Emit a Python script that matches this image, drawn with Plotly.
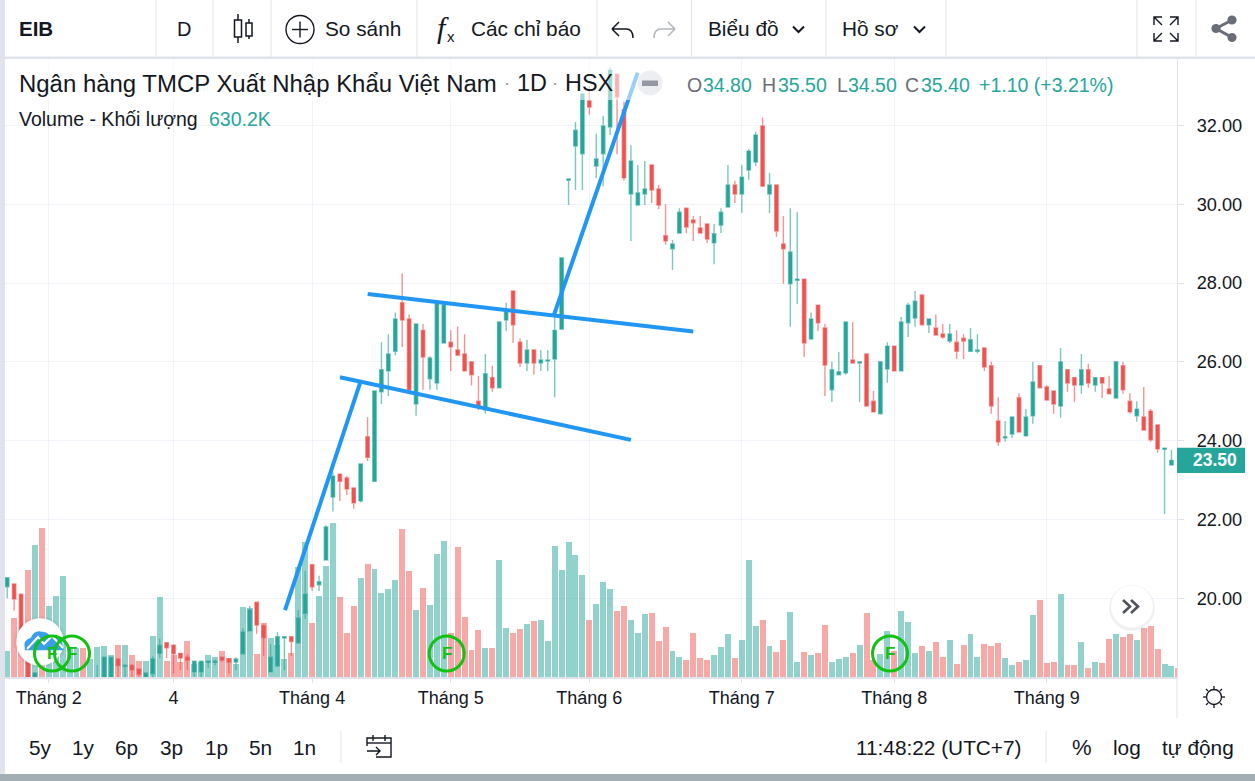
import plotly.graph_objects as go

# daily candles, index 0 is the leftmost bar
# (bars 5-13 sit below the visible price range, behind the logo)
open_p = [20.29,20.36,20.10,18.90,17.90,17.80,17.60,17.60,17.50,17.50,17.50,17.70,17.55,17.70,17.70,17.70,18.46,18.27,18.30,18.20,
 17.90,18.08,18.60,18.87,18.81,18.60,18.50,18.13,18.13,18.37,18.37,18.50,18.46,18.38,18.59,19.17,19.90,19.30,18.13,18.28,
 18.99,19.02,18.87,19.62,20.85,20.34,20.97,22.57,23.15,23.05,22.80,22.47,24.10,22.97,25.24,25.77,26.27,27.50,27.09,24.93,
 26.80,25.57,25.46,26.48,26.50,26.30,26.20,26.00,25.00,24.78,25.60,25.34,27.06,27.80,26.50,25.97,26.30,25.97,26.02,26.07,
 26.83,30.61,31.48,31.28,32.62,30.97,31.28,31.96,33.30,32.40,30.26,29.98,30.26,31.00,30.39,29.20,28.87,29.27,29.90,29.60,
 29.40,29.50,29.02,29.47,29.93,30.49,30.26,30.87,31.07,31.99,30.26,30.49,28.99,27.98,28.07,28.10,26.58,27.44,26.86,25.29,
 25.67,25.72,26.05,25.97,26.20,25.00,24.68,25.82,26.40,25.77,26.99,27.11,27.70,26.94,26.86,26.71,26.53,26.50,26.60,26.27,
 26.27,26.35,25.90,24.50,24.07,24.17,25.09,24.12,24.63,25.90,25.36,25.26,24.88,25.80,25.60,25.41,25.80,25.41,25.60,25.31,
 25.08,25.90,25.00,24.63,24.60,24.75,24.40,23.78,23.38]
high_p = [20.52,20.36,20.10,18.95,18.10,17.85,17.70,17.75,17.70,17.60,17.70,17.75,17.80,18.30,18.50,18.50,18.46,18.30,18.30,18.20,
 18.10,18.52,18.97,18.87,18.81,18.60,18.58,18.40,18.40,18.40,18.45,18.50,18.46,18.50,19.24,19.80,19.90,19.35,18.84,19.14,
 19.02,19.02,19.70,20.70,20.85,20.57,21.85,23.20,23.15,23.10,22.80,23.41,24.60,25.26,26.50,26.70,27.25,28.25,27.20,26.96,
 26.96,26.15,27.47,27.50,26.80,26.90,26.70,26.00,25.64,26.20,25.90,27.01,27.50,27.80,26.60,26.56,26.30,26.30,26.30,27.20,
 28.64,30.64,32.09,32.80,33.00,31.79,32.24,33.48,33.30,32.60,31.50,31.00,31.10,31.00,30.49,30.00,29.09,29.90,29.90,29.70,
 29.70,29.50,29.50,29.90,31.00,30.60,31.00,31.40,31.84,32.20,30.80,30.49,29.70,29.90,29.80,28.10,27.25,27.44,26.96,26.00,
 26.25,27.01,27.01,26.00,26.20,25.26,26.00,26.50,26.40,27.14,27.50,27.80,27.70,27.09,27.20,26.96,26.96,26.80,26.70,26.86,
 26.70,26.35,26.00,25.10,24.50,24.60,25.20,24.80,26.00,25.90,25.41,25.26,26.35,25.80,25.60,26.20,25.95,25.60,25.60,25.65,
 26.00,26.00,25.20,25.00,25.36,24.80,24.40,23.81,23.77]
low_p = [20.00,19.68,19.00,17.90,17.80,17.50,17.50,17.50,17.40,17.40,17.40,17.50,17.50,17.60,17.60,17.60,17.80,17.80,17.80,17.90,
 17.80,17.95,18.48,18.48,18.08,18.18,18.18,17.95,17.95,18.23,18.30,18.38,18.08,18.18,18.59,19.17,19.10,18.53,18.13,18.28,
 18.18,18.53,18.84,19.47,20.18,20.18,20.97,22.20,22.47,22.62,22.27,22.43,23.48,22.97,24.93,25.13,26.17,26.38,25.29,24.63,
 25.29,25.29,25.29,26.48,25.77,26.17,25.77,25.40,24.78,24.68,25.24,25.34,26.78,26.48,25.87,25.77,25.67,25.77,25.77,25.10,
 26.83,29.98,30.36,30.36,32.27,30.67,30.46,31.76,31.27,30.60,29.07,29.98,29.98,30.03,29.88,28.97,28.33,29.27,29.27,29.07,
 29.27,29.02,28.48,29.27,29.93,30.03,29.78,30.62,30.97,30.46,29.78,29.17,27.98,26.89,27.47,26.12,26.58,26.78,25.13,24.98,
 25.67,25.67,25.97,24.98,24.88,24.73,24.68,25.47,25.77,25.77,26.63,26.89,26.94,26.73,26.68,26.58,26.48,26.07,26.07,26.27,
 26.22,25.77,24.68,23.87,23.97,24.07,24.22,24.12,24.43,25.34,25.03,24.68,24.58,25.24,24.98,25.19,25.34,25.24,25.08,25.19,
 25.08,25.19,24.68,24.48,24.27,23.97,23.69,22.14,23.38]
close_p = [20.52,19.98,19.05,17.95,18.10,17.55,17.70,17.70,17.65,17.55,17.60,17.55,17.70,17.95,18.50,18.50,18.29,18.30,18.18,18.07,
 18.10,18.46,18.80,18.74,18.59,18.48,18.43,18.40,18.40,18.40,18.40,18.43,18.38,18.46,19.14,19.70,19.32,19.00,18.50,19.02,
 19.02,18.90,19.50,20.10,20.29,20.42,21.81,23.10,22.97,22.77,22.42,23.41,23.58,25.26,25.80,26.20,27.09,27.06,25.29,26.96,
 26.12,26.10,27.47,27.44,26.38,26.17,25.77,25.67,24.88,25.70,25.34,27.01,27.32,26.94,25.97,26.30,25.97,26.05,26.05,26.80,
 28.64,30.64,31.88,32.80,32.47,31.15,31.99,33.40,32.72,30.67,31.10,30.29,30.39,30.36,29.98,29.07,28.99,29.80,29.42,29.53,
 29.27,29.12,29.25,29.80,30.49,30.26,30.69,31.35,31.76,30.46,30.49,29.32,28.87,28.79,28.10,26.48,27.09,26.99,25.92,25.80,
 25.75,27.01,25.97,26.00,24.88,24.73,26.00,26.40,25.77,27.01,27.44,27.54,26.94,27.09,26.68,26.63,26.71,26.27,26.53,26.56,
 26.30,25.87,24.88,23.97,24.10,24.60,24.22,24.60,25.49,25.34,25.03,24.93,26.00,25.46,25.41,25.80,25.46,25.60,25.46,25.19,
 26.00,25.29,24.73,24.80,24.27,24.02,23.79,23.81,23.50]
volume_k = [1820,4130,3150,7490,9240,10430,4970,5670,7070,2030,2030,2030,1260,2100,2170,1540,2240,2240,1540,1120,
 1120,2870,5600,1120,1540,1050,2520,910,1050,1540,1400,1820,1330,910,4900,4830,1610,3780,2730,2240,
 1260,1680,7700,9450,3780,5670,7770,10780,5600,3080,4970,6930,7910,7560,5880,6160,6790,10360,7420,4690,
 6230,5040,8610,9520,3080,9100,4200,1890,3290,2030,2030,8190,3430,3080,3360,3710,3920,3990,2520,9170,
 7490,9450,8540,7140,3990,5110,6650,6160,4620,4970,3990,3080,4410,4480,2520,3500,1820,1400,1190,3080,
 1330,1190,1540,2100,3010,1330,2590,8190,3570,3990,2170,1750,2590,4550,1050,1750,1540,1680,3640,1050,
 1260,1400,1680,2240,4480,1190,1610,3220,1820,4620,3850,1680,2170,1820,2450,1400,2590,910,2240,3010,
 1400,2310,2170,2380,1330,840,1050,1190,4340,5390,980,1050,5810,840,840,2450,630,1050,980,2660,
 3010,2800,3010,2590,3430,3570,1960,910,770,630.2]

tick_index = [6, 24, 44, 64, 84, 106, 128, 150]
tick_names = ["Tháng 2", "4", "Tháng 4", "Tháng 5", "Tháng 6", "Tháng 7", "Tháng 8", "Tháng 9"]
price_ticks = [20, 22, 24, 26, 28, 30, 32]

# hand drawn trend lines on the chart (bar index, price)
up_leg_x, up_leg_y = [40.09, 50.91], [19.70, 25.46]
flag_low_x, flag_low_y = [48.02, 90.0], [25.61, 24.02]
flag_high_x, flag_high_y = [52.02, 99.0], [27.72, 26.77]
breakout_x, breakout_y = [78.9, 90.98], [27.19, 33.34]

last_price = 23.50

TEAL = "#26a69a"
RED = "#ef5350"
INK = "#131722"
SEP = "#e0e3eb"
GRID = "#f0f3fa"
BLUE = "#2196f3"
GREEN = "#12c212"
FONT = "Liberation Sans"

W, H = 1255, 781
L, R, T, B = 5, 1177, 58, 677


def px(x):
    return (x - L) / (R - L)


def py(y):
    return (B - y) / (B - T)


def path(d):
    # svg path typed in screen pixels, converted to paper coordinates
    out, is_x = [], True
    for tok in d.split():
        if tok.isalpha():
            out.append(tok)
        else:
            out.append(str(px(float(tok))) if is_x else str(py(float(tok))))
            is_x = not is_x
    return " ".join(out)


shapes = []
notes = []


def rect(x0, y0, x1, y1, fill, opacity=1):
    shapes.append(dict(type="rect", xref="paper", yref="paper", x0=px(x0), x1=px(x1), y0=py(y0), y1=py(y1),
                       fillcolor=fill, opacity=opacity, line=dict(width=0), layer="above"))


def line(x0, y0, x1, y1, color=SEP, width=1):
    shapes.append(dict(type="line", xref="paper", yref="paper", x0=px(x0), x1=px(x1), y0=py(y0), y1=py(y1),
                       line=dict(color=color, width=width), layer="above"))


def circle(cx, cy, r, fill="rgba(0,0,0,0)", color=None, width=0, opacity=1):
    shapes.append(dict(type="circle", xref="paper", yref="paper", x0=px(cx - r), x1=px(cx + r), y0=py(cy - r), y1=py(cy + r),
                       fillcolor=fill, opacity=opacity, line=dict(color=color or "rgba(0,0,0,0)", width=width), layer="above"))


def stroke(d, color=INK, width=1.5, fill=None):
    shapes.append(dict(type="path", xref="paper", yref="paper", path=path(d), fillcolor=fill,
                       line=dict(color=color, width=width), layer="above"))


def text(x, y, s, size=18, color=INK, anchor="left", family=FONT):
    notes.append(dict(xref="paper", yref="paper", x=px(x), y=py(y), text=s, showarrow=False, xanchor=anchor, yanchor="middle",
                      font=dict(family=family, size=size, color=color), borderpad=0, borderwidth=0))


vol_colors = ["rgba(38,166,154,0.5)" if c >= o else "rgba(239,83,80,0.5)" for o, c in zip(open_p, close_p)]
vol_colors.append("rgba(239,83,80,0.5)")  # bar past the right edge, candle is hidden by the price scale

fig = go.Figure()
fig.add_trace(go.Bar(x=list(range(len(volume_k))), y=volume_k, marker=dict(color=vol_colors, line=dict(width=0)),
                     width=0.86, yaxis="y", hoverinfo="skip"))
fig.add_trace(go.Candlestick(
    x=list(range(len(open_p))), open=open_p, high=high_p, low=low_p, close=close_p, yaxis="y2", whiskerwidth=0,
    increasing=dict(line=dict(color="rgba(38,166,154,0.62)", width=1.4), fillcolor=TEAL),
    decreasing=dict(line=dict(color="rgba(239,83,80,0.62)", width=1.4), fillcolor=RED),
    hoverinfo="skip"))
for xs, ys in [(up_leg_x, up_leg_y), (flag_low_x, flag_low_y), (flag_high_x, flag_high_y), (breakout_x, breakout_y)]:
    fig.add_trace(go.Scatter(x=xs, y=ys, mode="lines", yaxis="y2", line=dict(color=BLUE, width=4), hoverinfo="skip"))

# white veil behind the legend text
rect(L, T, 640, 100, "#ffffff", 0.55)

# page frame
rect(0, 0, L, H, SEP)
rect(0, 774, W, H, "#a3adb4")
rect(0, 56.5, W, 59, SEP)

# top toolbar
for sx in [156, 213, 271, 417, 597, 691.5, 826, 946, 1137, 1196]:
    line(sx, 0, sx, 57)
text(19, 29, "<b>EIB</b>", 20.5)
text(184, 29, "D", 20, anchor="center")
# candle style icon
line(238, 14, 238, 43, INK, 1.5)
rect(234.5, 20, 241.5, 37, "#ffffff")
stroke("M 234.5 20 L 241.5 20 L 241.5 37 L 234.5 37 Z", INK, 1.5)
line(249, 19, 249, 39, INK, 1.5)
rect(246, 23, 252, 36, "#ffffff")
stroke("M 246 23 L 252 23 L 252 36 L 246 36 Z", INK, 1.5)
circle(300, 29.5, 14, color=INK, width=1.4)
line(292, 29.5, 308, 29.5, INK, 1.4)
line(300, 21.5, 300, 37.5, INK, 1.4)
text(325, 29, "So sánh", 20.8)
text(437, 27, "<i>f</i>", 30, family="Liberation Serif")
text(447, 37, "x", 15)
text(471, 29, "Các chỉ báo", 20.8)
stroke("M 612 29 L 619 22 M 612 29 L 619 36 M 612 29 L 626 29 Q 633 29 633 38", INK, 1.5)
stroke("M 675 29 L 668 22 M 675 29 L 668 36 M 675 29 L 661 29 Q 654 29 654 38", "#b2b5be", 1.5)
text(708, 29, "Biểu đồ", 20.8)
stroke("M 793 26.5 L 798.5 32 L 804 26.5", INK, 2)
text(842, 29, "Hồ sơ", 20.8)
stroke("M 914 26.5 L 919.5 32 L 925 26.5", INK, 2)
# expand icon
for cx, cy, sx, sy in [(1154, 17, 1, 1), (1178, 17, -1, 1), (1154, 41, 1, -1), (1178, 41, -1, -1)]:
    stroke(f"M {cx} {cy + 8 * sy} L {cx} {cy} L {cx + 8 * sx} {cy} M {cx} {cy} L {cx + 8 * sx} {cy + 8 * sy}", INK, 1.4)
# share icon
stroke("M 1232 20 L 1216 28.5 L 1232 37.5", "#6a6d78", 3)
circle(1216, 28.5, 4.6, "#6a6d78")
circle(1232, 20, 4.6, "#6a6d78")
circle(1232, 37.5, 4.6, "#6a6d78")

# legend
text(19, 83, "Ngân hàng TMCP Xuất Nhập Khẩu Việt Nam", 23.95)
text(507, 83, "·", 18, "#9598a1", anchor="center")
text(517, 83, "1D", 23.4)
text(555, 83, "·", 18, "#9598a1", anchor="center")
text(565, 83, "HSX", 23.4)
circle(650, 83, 12.5, "#eceef1")
rect(642, 80.5, 658, 86, "#9598a1")
for lx, label, vx, value in [(687, "O", 703, "34.80"), (762, "H", 778, "35.50"), (837, "L", 848, "34.50"), (905, "C", 921, "35.40")]:
    text(lx, 85, label, 19.5, "#6a6d78")
    text(vx, 85, value, 19.5, TEAL)
text(979, 85, "+1.10 (+3.21%)", 19.5, TEAL)
text(19, 119, "Volume - Khối lượng", 19.5)
text(209, 119, "630.2K", 19.5, TEAL)

# last price tag
shapes.append(dict(type="rect", xref="paper", yref="y2", x0=px(1177), x1=px(1245), y0=last_price - 0.32, y1=last_price + 0.32,
                   fillcolor=TEAL, line=dict(width=0), layer="above"))
notes.append(dict(xref="paper", yref="y2", x=px(1215), y=last_price, text="<b>23.50</b>", showarrow=False, xanchor="center",
                  yanchor="middle", font=dict(family=FONT, size=17.5, color="#ffffff")))

# site logo and the earnings markers
circle(40, 642, 26, "#000000", opacity=0.05)
circle(40, 642, 23.7, "#ffffff")
stroke("M 25 648 Q 23 640 31 638 Q 34 630 42 632 Q 48 632 50 637 Q 58 636 62 642 L 63 650 L 25 650 Z", "#3a9ee8", 0.5, fill="#3a9ee8")
stroke("M 27 649 L 38 637 L 44 644 L 52 636 L 63 648", "#ffffff", 2)
for cx in [52, 72, 446.7, 890]:
    circle(cx, 653.5, 17.5, color=GREEN, width=3)
    text(cx, 653.5, "<b>F</b>", 17, GREEN, anchor="center")

# scroll to the latest bar button
circle(1132, 608, 23, "#000000", opacity=0.06)
circle(1132, 606.5, 21, "#ffffff")
stroke("M 1123 600 L 1130 606.5 L 1123 613 M 1131 600 L 1138 606.5 L 1131 613", "#50535e", 2.6)

# time scale corner
line(1177, 677, 1177, 718)
circle(1214, 697, 7.5, color=INK, width=1.3)
for x0, y0, x1, y1 in [(1214, 686, 1214, 689), (1214, 705, 1214, 708), (1203, 697, 1206, 697), (1222, 697, 1225, 697),
                       (1206, 689, 1208, 691), (1220, 703, 1222, 705), (1222, 689, 1220, 691), (1206, 705, 1208, 703)]:
    line(x0, y0, x1, y1, INK, 1.3)

# bottom toolbar
for cx, label in zip([40, 83, 126, 171, 216, 260, 304], ["5y", "1y", "6p", "3p", "1p", "5n", "1n"]):
    text(cx, 747, label, 20.8, anchor="center")
line(341, 731, 341, 763)
stroke("M 367 746 L 367 738 L 391 738 L 391 757 L 376 757", INK, 1.4)
line(367, 743, 391, 743, INK, 1.4)
line(373, 735, 373, 741, INK, 1.4)
line(385, 735, 385, 741, INK, 1.4)
stroke("M 367 751 L 380 751 M 376 747 L 380 751 L 376 755", INK, 1.4)
text(856, 747, "11:48:22 (UTC+7)", 20.8)
line(1046, 731, 1046, 763)
text(1082, 747, "%", 22, anchor="center")
text(1127, 747, "log", 20.8, anchor="center")
text(1162, 747, "tự động", 20.8)

fig.update_layout(
    width=W, height=H, autosize=False, showlegend=False, bargap=0,
    paper_bgcolor="#ffffff", plot_bgcolor="#ffffff",
    margin=dict(l=L, r=W - R, t=T, b=H - B, pad=0),
    font=dict(family=FONT, color=INK, size=16),
    shapes=shapes, annotations=notes,
    xaxis=dict(range=[-0.317, 168.8], tickmode="array", tickvals=tick_index, ticktext=tick_names, tickangle=0,
               showgrid=True, gridcolor=GRID, gridwidth=1, zeroline=False, rangeslider=dict(visible=False),
               showline=True, linecolor=SEP, linewidth=1.5, ticks="outside", ticklen=4, tickcolor=SEP,
               tickfont=dict(family=FONT, size=18, color=INK), ticklabelstandoff=0),
    yaxis=dict(range=[0, 43330], visible=False, showgrid=False, zeroline=False, fixedrange=True),
    yaxis2=dict(range=[18.0, 33.713], overlaying="y", side="right", anchor="x", tickmode="array", tickvals=price_ticks,
                tickformat=".2f", showgrid=True, gridcolor=GRID, gridwidth=1, zeroline=False,
                showline=True, linecolor=SEP, linewidth=1, ticks="outside", ticklen=6, tickcolor=SEP,
                tickfont=dict(family=FONT, size=18.2, color=INK), ticklabelstandoff=9),
)

fig.write_html("out.html", config={"displayModeBar": False},
               post_script="document.body.style.margin='0';document.body.style.overflow='hidden';")
